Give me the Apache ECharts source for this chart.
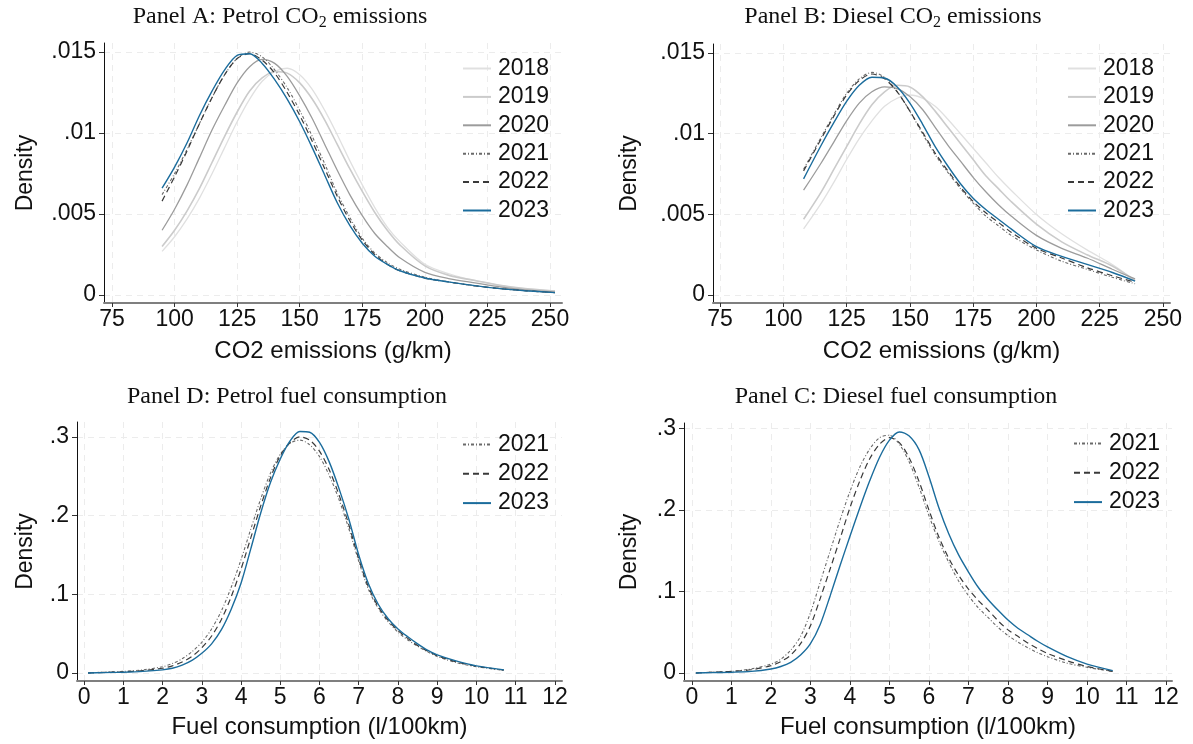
<!DOCTYPE html>
<html><head><meta charset="utf-8">
<script src="https://cdn.jsdelivr.net/npm/echarts@6/dist/echarts.min.js"></script>
<style>html,body{margin:0;padding:0;background:#fff}#c{width:1193px;height:744px}</style>
</head><body><div id="c"></div>
<script>
// ---------- DATA ----------
const YEARS_ALL = ['2018','2019','2020','2021','2022','2023'];
const YEARS_FUEL = ['2021','2022','2023'];

const X_TICKS_CO2 = [75,100,125,150,175,200,225,250];
const Y_TICKS_CO2 = [0,0.005,0.01,0.015];
const X_TICKS_FUEL = [0,1,2,3,4,5,6,7,8,9,10,11,12];
const Y_TICKS_FUEL = [0,0.1,0.2,0.3];

// Panel A: Petrol CO2 emissions
const A_X = [95,100,105,110,115,120,125,130,135,140,145,150,155,160,165,170,175,180,185,190,200,210,220,230,240,252];
const A_2018 = [0.0027,0.0036,0.0047,0.0060,0.0075,0.0091,0.0107,0.0121,0.0132,0.0138,0.0140,0.0136,0.0127,0.0114,0.0099,0.0083,0.0068,0.0054,0.0042,0.0033,0.0019,0.0013,0.0009,0.0006,0.0004,0.00025];
const A_2019 = [0.0030,0.0040,0.0052,0.0066,0.0082,0.0098,0.0113,0.0126,0.0134,0.0138,0.0137,0.0131,0.0121,0.0108,0.0093,0.0078,0.0064,0.0051,0.0040,0.0031,0.0018,0.0012,0.0009,0.0006,0.0004,0.00025];
const A_2020 = [0.0040,0.0053,0.0068,0.0085,0.0102,0.0117,0.0131,0.0141,0.01455,0.0143,0.0135,0.0123,0.0109,0.0093,0.0077,0.0062,0.0049,0.0038,0.0030,0.0023,0.0014,0.0010,0.00075,0.0005,0.00032,0.0002];
const A_2021 = [0.0062,0.0075,0.0090,0.0106,0.0122,0.0136,0.0146,0.0150,0.0147,0.0139,0.0128,0.0114,0.0098,0.0081,0.0063,0.0048,0.0035,0.0026,0.0020,0.0016,0.0011,0.0008,0.00058,0.0004,0.00027,0.00015];
const A_2022 = [0.0058,0.0073,0.0089,0.0106,0.0122,0.0136,0.0146,0.0149,0.0145,0.0137,0.0125,0.0111,0.0095,0.0078,0.0061,0.0046,0.0034,0.0025,0.0019,0.0015,0.00105,0.0008,0.00057,0.0004,0.00027,0.00015];
const A_2023 = [0.0066,0.0079,0.0094,0.0111,0.0126,0.0139,0.0148,0.0149,0.0143,0.0133,0.0121,0.0107,0.0091,0.0074,0.0057,0.0043,0.0032,0.0024,0.0019,0.0015,0.00105,0.0008,0.00058,0.0004,0.00027,0.00015];

// Panel B: Diesel CO2 emissions
const B_X = [108,115,120,125,130,135,140,145,150,155,160,165,170,175,180,185,190,200,210,220,230,239];
const B_2018 = [0.0041,0.0057,0.0070,0.0084,0.0097,0.0108,0.0117,0.0122,0.0124,0.0122,0.0117,0.0109,0.0100,0.0091,0.0082,0.0073,0.0065,0.0050,0.0038,0.0028,0.0019,0.0009];
const B_2019 = [0.0047,0.0064,0.0078,0.0092,0.0106,0.0118,0.0126,0.0130,0.0129,0.0123,0.0114,0.0104,0.0094,0.0084,0.0074,0.0066,0.0058,0.0044,0.0033,0.0025,0.0018,0.0009];
const B_2020 = [0.0065,0.0082,0.0095,0.0108,0.0119,0.0126,0.0129,0.0128,0.0123,0.0115,0.0104,0.0093,0.0083,0.0073,0.0064,0.0056,0.0049,0.0037,0.0029,0.0023,0.0016,0.0010];
const B_2021 = [0.0078,0.0098,0.0112,0.0125,0.0134,0.0138,0.0135,0.0126,0.0114,0.0100,0.0087,0.0076,0.0066,0.0057,0.0049,0.0043,0.0037,0.0028,0.0021,0.0016,0.0011,0.0007];
const B_2022 = [0.0077,0.0097,0.0111,0.0124,0.0133,0.0137,0.0134,0.0126,0.0114,0.0101,0.0088,0.0077,0.0067,0.0058,0.0051,0.0045,0.0039,0.0029,0.0023,0.0017,0.0012,0.0008];
const B_2023 = [0.0072,0.0093,0.0107,0.0120,0.0130,0.0135,0.01345,0.0129,0.0119,0.0106,0.0092,0.0080,0.0069,0.0060,0.0053,0.0047,0.0041,0.0030,0.0024,0.0019,0.0014,0.00087];

// Panel D: Petrol fuel consumption
const D_X = [0.1,0.5,1,1.5,2,2.25,2.5,2.75,3,3.25,3.5,3.75,4,4.25,4.5,4.75,5,5.25,5.5,5.75,6,6.25,6.5,6.75,7,7.25,7.5,7.75,8,8.25,8.5,8.75,9,9.5,10,10.7];
const D_2021 = [0,0.001,0.002,0.004,0.008,0.012,0.018,0.027,0.039,0.056,0.079,0.109,0.144,0.183,0.221,0.254,0.278,0.292,0.296,0.290,0.275,0.251,0.220,0.183,0.142,0.106,0.082,0.065,0.052,0.042,0.034,0.027,0.021,0.013,0.008,0.0034];
const D_2022 = [0,0.0008,0.0015,0.003,0.006,0.009,0.014,0.021,0.032,0.047,0.068,0.097,0.132,0.172,0.212,0.248,0.276,0.293,0.300,0.296,0.282,0.258,0.226,0.188,0.145,0.109,0.084,0.067,0.054,0.044,0.035,0.028,0.022,0.014,0.0085,0.0037];
const D_2023 = [0,0.0005,0.001,0.002,0.004,0.006,0.010,0.016,0.025,0.037,0.055,0.081,0.114,0.158,0.203,0.242,0.272,0.295,0.307,0.306,0.293,0.268,0.234,0.195,0.150,0.113,0.087,0.069,0.056,0.046,0.037,0.029,0.023,0.015,0.009,0.004];

// Panel C: Diesel fuel consumption
const C_X = [0.1,0.5,1,1.5,2,2.25,2.5,2.75,3,3.25,3.5,3.75,4,4.25,4.5,4.75,5,5.25,5.5,5.75,6,6.25,6.5,6.75,7,7.25,7.5,7.75,8,8.25,8.5,8.75,9,9.5,10,10.65];
const C_2021 = [0,0.001,0.002,0.005,0.011,0.017,0.028,0.045,0.074,0.112,0.150,0.188,0.223,0.253,0.275,0.289,0.292,0.281,0.259,0.228,0.193,0.162,0.136,0.113,0.095,0.080,0.068,0.056,0.046,0.038,0.031,0.025,0.020,0.012,0.007,0.002];
const C_2022 = [0,0.001,0.002,0.004,0.009,0.014,0.022,0.036,0.058,0.092,0.128,0.165,0.203,0.236,0.263,0.281,0.289,0.283,0.264,0.235,0.200,0.167,0.141,0.120,0.103,0.089,0.077,0.064,0.053,0.045,0.037,0.030,0.024,0.015,0.008,0.002];
const C_2023 = [0,0.0005,0.001,0.002,0.005,0.008,0.013,0.022,0.036,0.060,0.095,0.132,0.168,0.203,0.236,0.265,0.286,0.296,0.291,0.274,0.241,0.203,0.171,0.145,0.124,0.105,0.090,0.077,0.065,0.055,0.047,0.039,0.032,0.020,0.011,0.003];

// ---------- STYLE / LAYOUT ----------
const SANS = 'Liberation Sans, Arial, sans-serif';
const SERIF = 'Liberation Serif, Times New Roman, serif';
const FS = 23;
const STYLE = {
  '2018': {color:'#e0e0e0', width:1.3, type:'solid'},
  '2019': {color:'#cbcbcb', width:1.6, type:'solid'},
  '2020': {color:'#9c9c9c', width:1.3, type:'solid'},
  '2021': {color:'#6a6a6a', width:1.1, type:[3,2,1,2]},
  '2022': {color:'#3a3a3a', width:1.2, type:[6,4]},
  '2023': {color:'#1b6c9c', width:1.4, type:'solid'}
};

const panels = [
  {title:['Panel A: Petrol CO','2',' emissions'], tx:280, ty:3,
   grid:{left:104, top:43, width:458, height:260},
   xr:[71.8,254.8], yr:[-0.00049,0.01556], xt:X_TICKS_CO2, yt:Y_TICKS_CO2,
   xname:'CO2 emissions (g/km)', ynameGap:67, xnameGap:36,
   legend:{left:462, top:57, gap:5.4}, years:YEARS_ALL, xs:A_X,
   ys:{'2018':A_2018,'2019':A_2019,'2020':A_2020,'2021':A_2021,'2022':A_2022,'2023':A_2023}},
  {title:['Panel B: Diesel CO','2',' emissions'], tx:893, ty:3,
   grid:{left:713, top:44, width:457, height:259},
   xr:[72.2,252.8], yr:[-0.00049,0.01556], xt:X_TICKS_CO2, yt:Y_TICKS_CO2,
   xname:'CO2 emissions (g/km)', ynameGap:72, xnameGap:36,
   legend:{left:1067, top:57, gap:5.4}, years:YEARS_ALL, xs:B_X,
   ys:{'2018':B_2018,'2019':B_2019,'2020':B_2020,'2021':B_2021,'2022':B_2022,'2023':B_2023}},
  {title:['Panel D: Petrol fuel consumption'], tx:287, ty:383,
   grid:{left:77, top:422, width:485, height:259},
   xr:[-0.18,12.18], yr:[-0.0102,0.319], xt:X_TICKS_FUEL, yt:Y_TICKS_FUEL,
   xname:'Fuel consumption (l/100km)', ynameGap:40, xnameGap:34,
   legend:{left:462, top:433, gap:6.3}, years:YEARS_FUEL, xs:D_X,
   ys:{'2021':D_2021,'2022':D_2022,'2023':D_2023}},
  {title:['Panel C: Diesel fuel consumption'], tx:896, ty:383,
   grid:{left:684, top:423, width:488, height:258},
   xr:[-0.2,12.15], yr:[-0.0098,0.307], xt:X_TICKS_FUEL, yt:Y_TICKS_FUEL,
   xname:'Fuel consumption (l/100km)', ynameGap:43, xnameGap:34,
   legend:{left:1073, top:432, gap:6.3}, years:YEARS_FUEL, xs:C_X,
   ys:{'2021':C_2021,'2022':C_2022,'2023':C_2023}}
];

function yfmt(v){ if (v === 0) return '0'; return String(v).replace(/^0\./,'.'); }

const option = {
  animation:false, backgroundColor:'#ffffff',
  title:[], grid:[], xAxis:[], yAxis:[], legend:[], series:[]
};

panels.forEach((p,i)=>{
  const rich = {
    a:{fontFamily:SERIF, fontSize:24, fontWeight:'normal', color:'#111', lineHeight:28},
    s:{fontFamily:SERIF, fontSize:16, fontWeight:'normal', color:'#111', lineHeight:19, verticalAlign:'bottom'}
  };
  const txt = p.title.length === 3 ? `{a|${p.title[0]}}{s|${p.title[1]}}{a|${p.title[2]}}` : `{a|${p.title[0]}}`;
  option.title.push({text:txt, left:p.tx, top:p.ty, textAlign:'center', padding:0,
    textStyle:{fontWeight:'normal', fontFamily:SERIF, fontSize:24, rich}});
  option.grid.push(Object.assign({containLabel:false}, p.grid));
  option.xAxis.push({
    type:'value', gridIndex:i, min:p.xr[0], max:p.xr[1],
    name:p.xname, nameLocation:'middle', nameGap:p.xnameGap,
    nameTextStyle:{fontFamily:SANS, fontSize:24, color:'#111'},
    axisLine:{show:true, onZero:false, lineStyle:{color:'#7f7f7f', width:2}},
    axisTick:{show:true, length:4, customValues:p.xt, lineStyle:{color:'#333', width:1}},
    axisLabel:{customValues:p.xt, margin:5, fontFamily:SANS, fontSize:FS, color:'#111'},
    splitLine:{show:true, lineStyle:{color:'#ececec', width:1, type:[6,5]}}
  });
  option.yAxis.push({
    type:'value', gridIndex:i, min:p.yr[0], max:p.yr[1],
    name:'Density', nameLocation:'middle', nameGap:p.ynameGap, nameRotate:90,
    nameTextStyle:{fontFamily:SANS, fontSize:FS, color:'#111'},
    axisLine:{show:true, onZero:false, lineStyle:{color:'#111', width:1}},
    axisTick:{show:true, length:5, customValues:p.yt, lineStyle:{color:'#333', width:1}},
    axisLabel:{customValues:p.yt, margin:8, fontFamily:SANS, fontSize:FS, color:'#111', formatter:yfmt},
    splitLine:{show:true, lineStyle:{color:'#ececec', width:1, type:[6,5]}}
  });
  option.legend.push({
    data:p.years, left:p.legend.left, top:p.legend.top, orient:'vertical', padding:0,
    itemWidth:28, itemHeight:12, itemGap:p.legend.gap, selectedMode:false,
    itemStyle:{opacity:0, borderWidth:0},
    textStyle:{fontFamily:SANS, fontSize:FS, color:'#111', padding:[0,0,0,2]}
  });
  p.years.forEach(y=>{
    const st = STYLE[y];
    option.series.push({
      type:'line', name:y, xAxisIndex:i, yAxisIndex:i,
      data:p.xs.map((x,j)=>[x, p.ys[y][j]]),
      showSymbol:false, symbol:'none', smooth:0.3, silent:true,
      lineStyle:{color:st.color, width:st.width, type:st.type},
      itemStyle:{color:st.color},
      emphasis:{disabled:true}
    });
  });
});

const chart = echarts.init(document.getElementById('c'), null, {renderer:'canvas'});
chart.setOption(option);
</script></body></html>
